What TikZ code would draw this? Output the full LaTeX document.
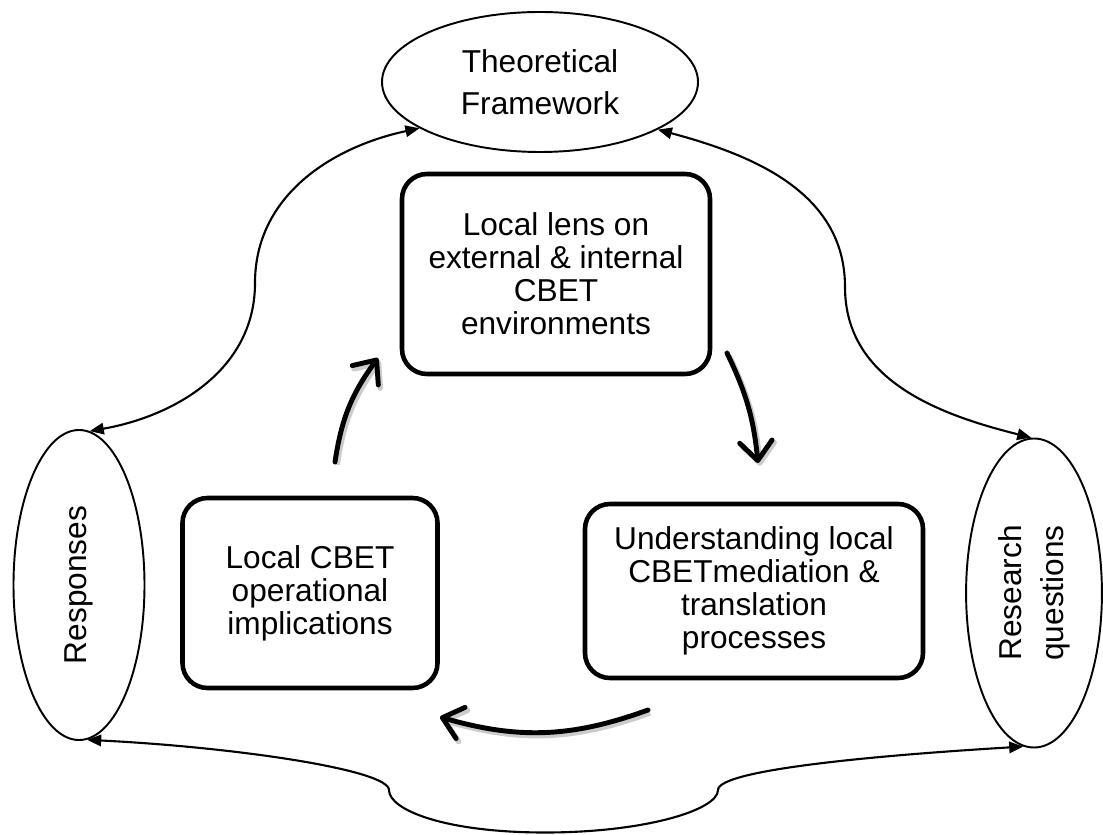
\documentclass[tikz,border=0pt]{standalone}
\usepackage{fontspec}
\setmainfont{Liberation Sans}
\usetikzlibrary{shapes,arrows.meta}

\begin{document}
\begin{tikzpicture}
\tikzstyle{stage}=[
	rectangle,
	rounded corners=0.5cm,
	draw, line width=2.6pt,
	align=center,
	font=\fontsize{18}{18.8}\selectfont ]
\tikzstyle{source}=[
	ellipse,
	draw, line width=1.1pt,
	align=center,
	font=\fontsize{18}{24}\selectfont ]
\tikzstyle{link}=[<->, >={Triangle[length=8pt,width=6.5pt]}, line width=1.2pt]
\tikzstyle{cyclearrow}=[
	-{Straight Barb[length=3.8mm,width=6.5mm,round]},
	line width=2.8pt, line cap=round,
	preaction={draw=black!20, line width=3.2pt, transform canvas={xshift=1.2pt,yshift=-1.6pt}} ]
\useasboundingbox (0,0) rectangle (22.06,16.68);
\node[source, minimum width=6.32cm, minimum height=2.8cm] (tf) at (10.8,15.04) {Theoretical\\Framework};
\node[source, minimum width=2.62cm, minimum height=6.2cm] (resp) at (1.58,4.98) {\rotatebox{90}{Responses}};
\node[source, minimum width=2.7cm, minimum height=6.18cm] (rq) at (20.68,4.82)
	{\rotatebox{90}{\begin{tabular}{@{}c@{}}Research\\questions\end{tabular}}};
\node[stage, minimum width=6.16cm, minimum height=4cm] (lens) at (11.12,11.2)
	{Local lens on\\external \& internal\\CBET\\environments};
\node[stage, minimum width=5.1cm, minimum height=3.8cm] (ops) at (6.2,4.82)
	{Local CBET\\operational\\implications};
\node[stage, minimum width=6.76cm, minimum height=3.48cm] (und) at (15.08,4.86)
	{Understanding local\\CBETmediation \&\\translation\\processes};
\coordinate (kL) at (5.1,11.02);
\coordinate (kR) at (16.9,10.94);
\coordinate (kBL) at (7.78,0.88);
\coordinate (kB) at (10.9,0.03);
\coordinate (kBR) at (14.36,0.88);
\draw[link] (tf.201) to[out=192,in=90] (kL) to[out=270,in=10] (resp.86);
\draw[link] (tf.338) to[out=-15,in=90] (kR) to[out=270,in=166] (rq.91);
\draw[link] (resp.273) .. controls +(3,-0.15) and +(0,0.4) .. (kBL)
	.. controls +(0,-0.4) and +(-2,0) .. (kB)
	.. controls +(2,0) and +(0,-0.4) .. (kBR)
	.. controls +(0,0.4) and +(-3,-0.18) .. (rq.266);
\coordinate (a1) at (6.7,7.44);
\coordinate (a2) at (7.56,9.52);
\coordinate (b1) at (14.54,9.62);
\coordinate (b2) at (15.16,7.42);
\coordinate (c1) at (12.96,2.48);
\coordinate (c2) at (8.8,2.34);
\draw[cyclearrow] (a1) to[bend left=14] (a2);
\draw[cyclearrow] (b1) to[bend left=10] (b2);
\draw[cyclearrow] (c1) to[bend left=18] (c2);
\end{tikzpicture}
\end{document}
